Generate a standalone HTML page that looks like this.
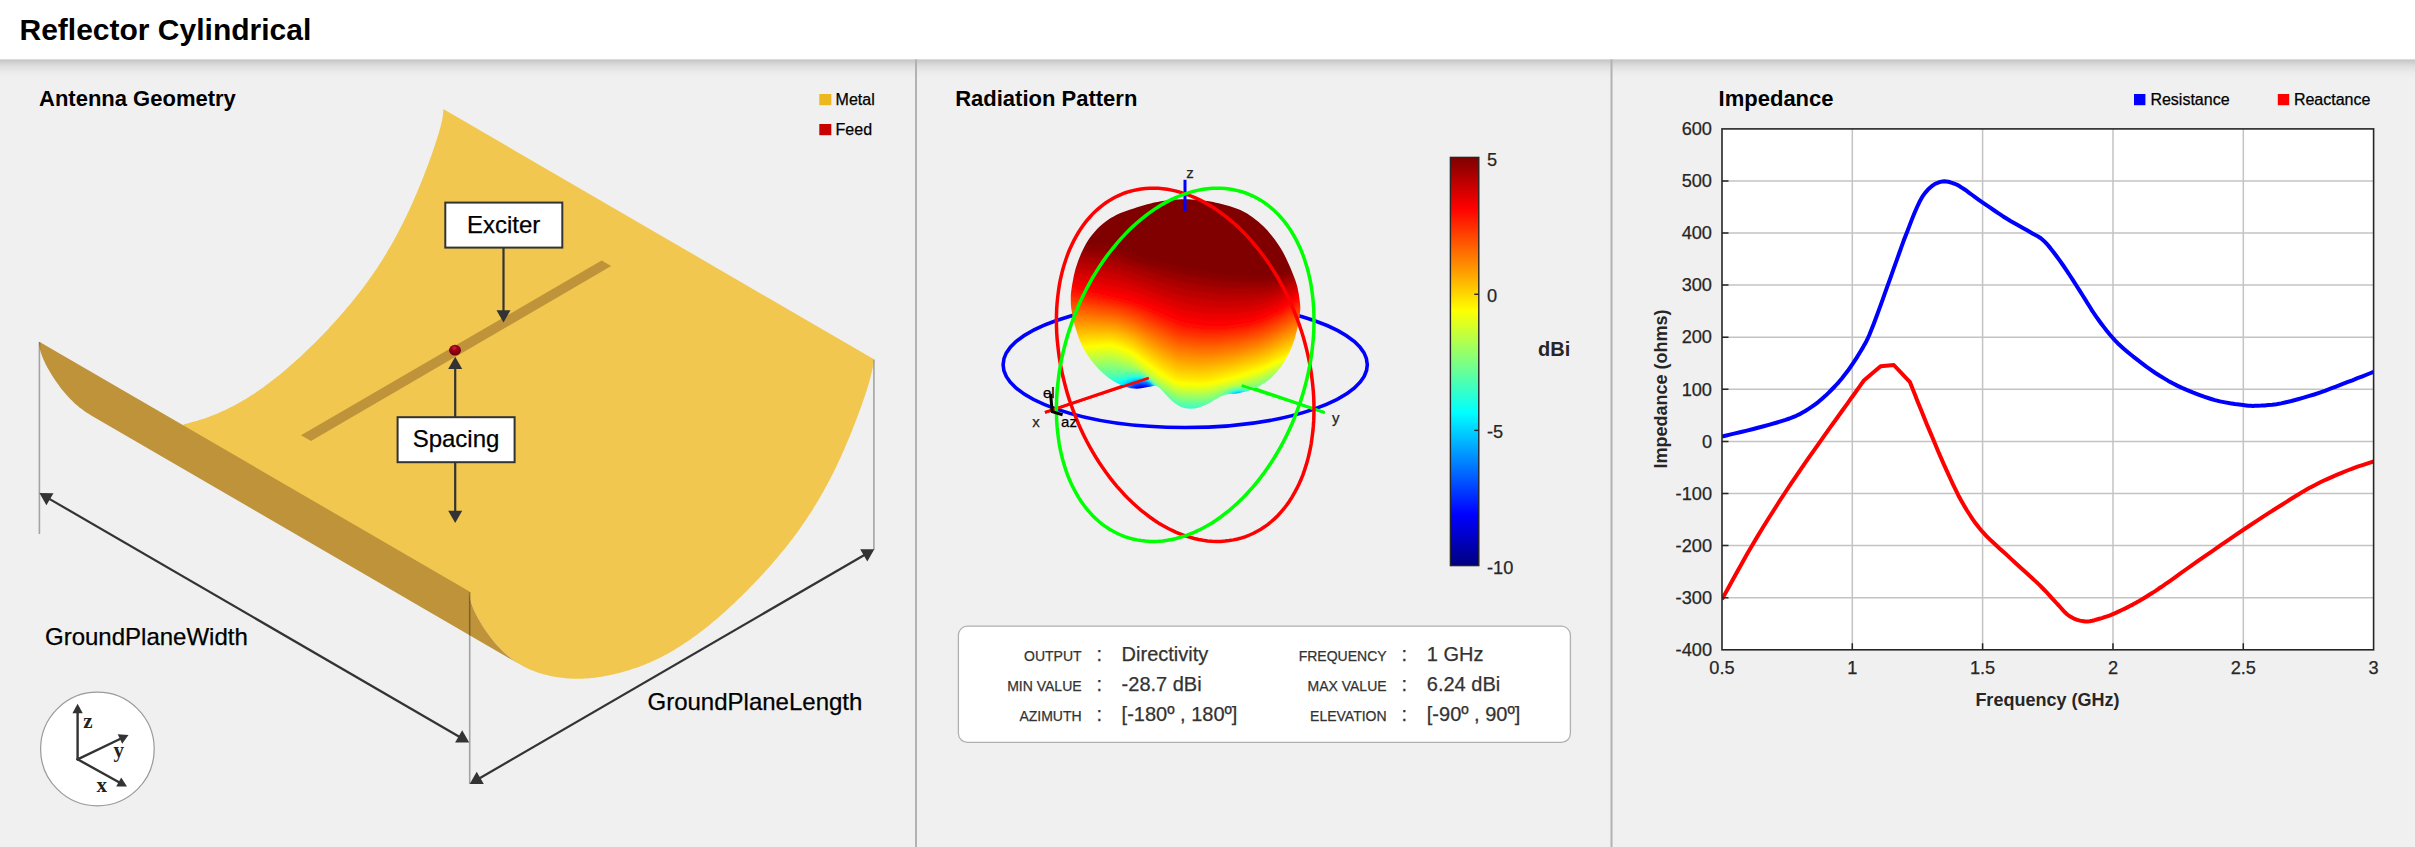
<!DOCTYPE html>
<html lang="en">
<head>
<meta charset="utf-8">
<title>Reflector Cylindrical</title>
<style>
html,body{margin:0;padding:0;background:#f0f0f0;}
body{width:2415px;height:847px;overflow:hidden;font-family:'Liberation Sans', Arial, Helvetica, sans-serif;}
svg{display:block;}
text{font-family:'Liberation Sans', Arial, Helvetica, sans-serif;}
.b{font-weight:bold;}
.serif{font-family:'Liberation Serif', 'Times New Roman', serif;font-weight:bold;}
</style>
</head>
<body>
<svg width="2415" height="847" viewBox="0 0 2415 847">
<defs>
<linearGradient id="shadow" x1="0" y1="0" x2="0" y2="1">
<stop offset="0" stop-color="#c2c2c2"/><stop offset="0.35" stop-color="#dedede"/><stop offset="0.7" stop-color="#ebebeb"/><stop offset="1" stop-color="#f0f0f0"/>
</linearGradient>
<radialGradient id="ball" cx="0.45" cy="0.3" r="0.7"><stop offset="0" stop-color="#cc2a40"/><stop offset="0.35" stop-color="#a00016"/><stop offset="1" stop-color="#68000c"/></radialGradient><mask id="bodymask" maskUnits="userSpaceOnUse" x="1060" y="190" width="250" height="226"><polygon points="1184.7,199.2 1188.1,199.3 1191.6,199.4 1195.1,199.7 1198.5,200 1201.7,200.3 1204.7,200.7 1207.6,201.1 1210.4,201.6 1213.1,202.1 1215.9,202.7 1218.7,203.3 1221.5,204 1224.4,204.7 1227.2,205.4 1230,206.3 1232.8,207.2 1235.7,208.2 1238.5,209.3 1241.4,210.5 1244.2,211.9 1247.1,213.6 1250,215.5 1252.9,217.5 1255.7,219.7 1258.4,221.8 1260.8,223.9 1263.1,226.1 1265.3,228.3 1267.5,230.6 1269.7,233.2 1272,236 1274.4,239.1 1276.7,242.3 1278.9,245.5 1281,248.8 1282.9,252.1 1284.7,255.4 1286.3,258.8 1287.9,262.3 1289.5,265.8 1291.1,269.4 1292.6,273.2 1294.1,277 1295.5,280.7 1296.6,284.2 1297.5,287.6 1298.2,291 1298.8,294.2 1299.2,297.3 1299.6,300 1299.9,302.3 1300.1,304.2 1300.3,305.9 1300.3,307.7 1300.2,310 1300,312.7 1299.7,315.6 1299.3,318.7 1298.7,322 1298,325.5 1297.1,329.2 1296.1,333.2 1295,337.4 1293.8,341.5 1292.4,345.3 1290.9,348.9 1289.3,352.4 1287.6,355.8 1285.8,359.1 1283.9,362.3 1281.8,365.4 1279.5,368.5 1277.2,371.4 1274.8,374.1 1272.5,376.5 1270.3,378.6 1268,380.4 1265.8,382.1 1263.6,383.6 1261.2,385 1258.7,386.4 1256.1,387.6 1253.5,388.8 1250.9,389.8 1248.4,390.7 1246,391.5 1243.8,392.1 1241.5,392.6 1239.3,393.1 1237.1,393.5 1234.8,393.8 1232.5,393.9 1230.2,394 1228,394.2 1225.8,394.6 1223.7,395.3 1221.7,396.1 1219.8,397.1 1217.9,398.2 1215.9,399.2 1213.9,400.3 1212,401.5 1210,402.7 1208,403.8 1205.9,404.8 1203.7,405.7 1201.5,406.6 1199.2,407.4 1196.9,408 1194.6,408.4 1192.3,408.6 1190,408.7 1187.7,408.5 1185.5,408.2 1183.3,407.7 1181.2,406.9 1179.1,405.9 1177.1,404.7 1175.2,403.4 1173.3,402 1171.5,400.5 1169.8,398.7 1168.1,396.9 1166.4,395.2 1164.8,393.5 1163.2,391.8 1161.7,390.1 1160.2,388.5 1158.6,387.1 1157,386.2 1155.3,385.8 1153.7,385.9 1151.9,386.3 1150,386.8 1147.8,387.1 1145.3,387.5 1142.5,387.9 1139.6,388.4 1136.6,388.7 1133.7,388.6 1130.8,388.2 1128,387.5 1125.1,386.6 1122.2,385.5 1119.5,384.3 1116.9,383 1114.3,381.7 1111.8,380.1 1109.3,378.4 1106.8,376.5 1104.2,374.3 1101.6,372 1099,369.4 1096.5,366.7 1094,363.8 1091.6,360.7 1089.2,357.4 1086.8,353.9 1084.7,350.4 1082.7,346.8 1081,343.2 1079.4,339.5 1078,335.8 1076.8,332 1075.6,328.3 1074.5,324.5 1073.6,320.7 1072.8,316.9 1072.1,313.3 1071.5,310 1071.1,307.2 1070.9,304.7 1070.8,302.4 1070.8,300.2 1070.8,298 1070.8,295.9 1070.9,293.9 1071.1,291.9 1071.4,289.7 1071.8,287 1072.3,283.8 1073,280.2 1073.7,276.3 1074.6,272.4 1075.6,268.6 1076.8,264.9 1078.1,261 1079.6,257.3 1081.1,253.6 1082.7,250.2 1084.3,247.1 1085.9,244.1 1087.5,241.3 1089.3,238.6 1091.2,236 1093.2,233.4 1095.4,230.9 1097.6,228.5 1100,226.2 1102.5,224 1105.1,221.9 1107.8,220 1110.7,218.1 1113.6,216.4 1116.7,214.8 1119.9,213.3 1123.3,212 1126.8,210.7 1130.3,209.5 1133.7,208.4 1137.1,207.3 1140.5,206.2 1143.9,205.2 1147.3,204.3 1150.7,203.4 1154.1,202.6 1157.5,201.9 1160.9,201.3 1164.3,200.8 1167.7,200.3 1171.1,199.9 1174.5,199.6 1177.9,199.4 1181.3,199.2" fill="#fff"/></mask><filter id="soft" filterUnits="userSpaceOnUse" x="1050" y="180" width="270" height="246"><feGaussianBlur stdDeviation="1.1"/></filter><linearGradient id="jet" x1="0" y1="0" x2="0" y2="1"><stop offset="0.0000" stop-color="#800000"/><stop offset="0.0156" stop-color="#8f0000"/><stop offset="0.0312" stop-color="#9f0000"/><stop offset="0.0469" stop-color="#af0000"/><stop offset="0.0625" stop-color="#bf0000"/><stop offset="0.0781" stop-color="#cf0000"/><stop offset="0.0938" stop-color="#df0000"/><stop offset="0.1094" stop-color="#ef0000"/><stop offset="0.1250" stop-color="#ff0000"/><stop offset="0.1406" stop-color="#ff1000"/><stop offset="0.1562" stop-color="#ff2000"/><stop offset="0.1719" stop-color="#ff3000"/><stop offset="0.1875" stop-color="#ff4000"/><stop offset="0.2031" stop-color="#ff5000"/><stop offset="0.2188" stop-color="#ff6000"/><stop offset="0.2344" stop-color="#ff7000"/><stop offset="0.2500" stop-color="#ff8000"/><stop offset="0.2656" stop-color="#ff8f00"/><stop offset="0.2812" stop-color="#ff9f00"/><stop offset="0.2969" stop-color="#ffaf00"/><stop offset="0.3125" stop-color="#ffbf00"/><stop offset="0.3281" stop-color="#ffcf00"/><stop offset="0.3438" stop-color="#ffdf00"/><stop offset="0.3594" stop-color="#ffef00"/><stop offset="0.3750" stop-color="#ffff00"/><stop offset="0.3906" stop-color="#efff10"/><stop offset="0.4062" stop-color="#dfff20"/><stop offset="0.4219" stop-color="#cfff30"/><stop offset="0.4375" stop-color="#bfff40"/><stop offset="0.4531" stop-color="#afff50"/><stop offset="0.4688" stop-color="#9fff60"/><stop offset="0.4844" stop-color="#8fff70"/><stop offset="0.5000" stop-color="#80ff80"/><stop offset="0.5156" stop-color="#70ff8f"/><stop offset="0.5312" stop-color="#60ff9f"/><stop offset="0.5469" stop-color="#50ffaf"/><stop offset="0.5625" stop-color="#40ffbf"/><stop offset="0.5781" stop-color="#30ffcf"/><stop offset="0.5938" stop-color="#20ffdf"/><stop offset="0.6094" stop-color="#10ffef"/><stop offset="0.6250" stop-color="#00ffff"/><stop offset="0.6406" stop-color="#00efff"/><stop offset="0.6562" stop-color="#00dfff"/><stop offset="0.6719" stop-color="#00cfff"/><stop offset="0.6875" stop-color="#00bfff"/><stop offset="0.7031" stop-color="#00afff"/><stop offset="0.7188" stop-color="#009fff"/><stop offset="0.7344" stop-color="#008fff"/><stop offset="0.7500" stop-color="#0080ff"/><stop offset="0.7656" stop-color="#0070ff"/><stop offset="0.7812" stop-color="#0060ff"/><stop offset="0.7969" stop-color="#0050ff"/><stop offset="0.8125" stop-color="#0040ff"/><stop offset="0.8281" stop-color="#0030ff"/><stop offset="0.8438" stop-color="#0020ff"/><stop offset="0.8594" stop-color="#0010ff"/><stop offset="0.8750" stop-color="#0000ff"/><stop offset="0.8906" stop-color="#0000ef"/><stop offset="0.9062" stop-color="#0000df"/><stop offset="0.9219" stop-color="#0000cf"/><stop offset="0.9375" stop-color="#0000bf"/><stop offset="0.9531" stop-color="#0000af"/><stop offset="0.9688" stop-color="#00009f"/><stop offset="0.9844" stop-color="#00008f"/><stop offset="1.0000" stop-color="#000080"/></linearGradient>
</defs>
<rect x="0" y="0" width="2415" height="847" fill="#f0f0f0"/>
<rect x="0" y="59" width="2415" height="19" fill="url(#shadow)"/>
<rect x="0" y="0" width="2415" height="59.4" fill="#ffffff"/>
<text x="19.5" y="40.2" font-size="30" class="b" fill="#000">Reflector Cylindrical</text>
<rect x="915" y="59.4" width="2" height="847" fill="#b2b2b2"/>
<rect x="1610.5" y="59.4" width="2" height="847" fill="#b2b2b2"/>
<text x="39" y="105.7" font-size="22" class="b" fill="#000">Antenna Geometry</text><rect x="819.3" y="94" width="12" height="11.2" fill="#edb720"/><text x="835.6" y="104.9" font-size="16" fill="#000" stroke="#000" stroke-width="0.25">Metal</text><rect x="819.3" y="124" width="12" height="11.2" fill="#c80000"/><text x="835.6" y="134.9" font-size="16" fill="#000" stroke="#000" stroke-width="0.25">Feed</text><polygon points="183.9,424.3 186.5,423.7 189,423 191.6,422.3 194.1,421.6 196.7,420.9 199.3,420.1 201.9,419.2 204.5,418.4 207.1,417.5 209.7,416.5 212.3,415.5 214.9,414.5 217.6,413.4 220.2,412.3 222.8,411.1 225.5,409.9 228.1,408.6 230.7,407.3 233.4,405.9 236,404.5 238.7,403.1 241.3,401.6 243.9,400 246.6,398.4 249.2,396.8 251.9,395.1 254.5,393.4 257.1,391.6 259.8,389.8 262.4,387.9 265,386 267.7,384.1 270.3,382.1 272.9,380.1 275.5,378.1 278.1,376 280.7,373.9 283.3,371.7 285.9,369.5 288.5,367.3 291,365.1 293.6,362.8 296.1,360.5 298.7,358.2 301.2,355.9 303.7,353.5 306.2,351.1 308.7,348.7 311.2,346.3 313.7,343.9 316.2,341.4 318.6,338.9 321,336.4 323.5,333.9 325.9,331.4 328.3,328.9 330.6,326.3 333,323.8 335.4,321.2 337.7,318.6 340,316 342.3,313.3 344.6,310.7 346.8,308.1 349.1,305.4 351.3,302.7 353.5,300 355.7,297.3 357.9,294.5 360,291.7 362.2,289 364.3,286.2 366.4,283.3 368.4,280.5 370.5,277.6 372.5,274.7 374.5,271.8 376.5,268.9 378.4,265.9 380.3,263 382.3,260 384.1,256.9 386,253.9 387.8,250.8 389.6,247.8 391.4,244.7 393.2,241.6 394.9,238.4 396.6,235.3 398.3,232.1 399.9,229 401.6,225.8 403.2,222.6 404.7,219.5 406.3,216.3 407.8,213.1 409.3,209.9 410.7,206.8 412.1,203.6 413.5,200.5 414.9,197.3 416.2,194.2 417.5,191.2 418.8,188.1 420.1,185.1 421.3,182.1 422.5,179.1 423.6,176.2 424.7,173.3 425.8,170.5 426.9,167.7 427.9,164.9 428.9,162.2 429.9,159.6 430.8,157 431.7,154.5 432.6,152 433.4,149.6 434.2,147.3 435,145 435.7,142.8 436.4,140.6 437.1,138.5 437.7,136.5 438.3,134.5 438.9,132.6 439.4,130.7 439.9,129 440.4,127.2 440.8,125.6 441.2,123.9 441.6,122.4 441.9,120.9 442.2,119.4 442.5,118 442.7,116.6 442.9,115.3 443,114 443.1,112.7 443.2,111.5 443.3,110.3 443.3,109.1 873.5,359 873.5,360.2 873.4,361.4 873.3,362.6 873.2,363.9 873.1,365.2 872.9,366.5 872.7,367.9 872.4,369.3 872.1,370.8 871.8,372.3 871.4,373.8 871,375.5 870.6,377.1 870.1,378.9 869.6,380.6 869.1,382.5 868.5,384.4 867.9,386.4 867.3,388.4 866.6,390.5 865.9,392.7 865.2,394.9 864.4,397.2 863.6,399.5 862.8,401.9 861.9,404.4 861,406.9 860.1,409.5 859.1,412.1 858.1,414.8 857.1,417.6 856,420.4 854.9,423.2 853.8,426.1 852.7,429 851.5,432 850.3,435 849,438 847.7,441.1 846.4,444.1 845.1,447.2 843.7,450.4 842.3,453.5 840.9,456.7 839.5,459.8 838,463 836.5,466.2 834.9,469.4 833.4,472.5 831.8,475.7 830.1,478.9 828.5,482 826.8,485.2 825.1,488.3 823.4,491.5 821.6,494.6 819.8,497.7 818,500.7 816.2,503.8 814.3,506.8 812.5,509.9 810.5,512.9 808.6,515.8 806.7,518.8 804.7,521.7 802.7,524.6 800.7,527.5 798.6,530.4 796.6,533.2 794.5,536.1 792.4,538.9 790.2,541.6 788.1,544.4 785.9,547.2 783.7,549.9 781.5,552.6 779.3,555.3 777,558 774.8,560.6 772.5,563.2 770.2,565.9 767.9,568.5 765.6,571.1 763.2,573.7 760.8,576.2 758.5,578.8 756.1,581.3 753.7,583.8 751.2,586.3 748.8,588.8 746.4,591.3 743.9,593.8 741.4,596.2 738.9,598.6 736.4,601 733.9,603.4 731.4,605.8 728.9,608.1 726.3,610.4 723.8,612.7 721.2,615 718.7,617.2 716.1,619.4 713.5,621.6 710.9,623.8 708.3,625.9 705.7,628 703.1,630 700.5,632 697.9,634 695.2,635.9 692.6,637.8 690,639.7 687.3,641.5 684.7,643.3 682.1,645 679.4,646.7 676.8,648.3 674.1,649.9 671.5,651.5 668.9,653 666.2,654.4 663.6,655.8 660.9,657.2 658.3,658.5 655.7,659.8 653,661 650.4,662.2 647.8,663.3 645.1,664.4 642.5,665.4 639.9,666.4 637.3,667.4 634.7,668.3 632.1,669.1 629.5,670 626.9,670.8 624.3,671.5 621.8,672.2 619.2,672.9 616.7,673.6 614.1,674.2 611.6,674.7 609.1,675.3 606.6,675.8 604.1,676.3 601.6,676.7 599.1,677.1 596.6,677.5 594.2,677.8 591.8,678.1 589.3,678.3 586.9,678.5 584.5,678.6 582.2,678.7 579.8,678.8 577.4,678.8 575.1,678.8 572.8,678.7 570.5,678.6 568.2,678.4 566,678.3 563.7,678 561.5,677.8 559.3,677.5 557.1,677.2 554.9,676.8 552.8,676.4 550.6,676 548.5,675.5 546.4,675 544.4,674.5 542.3,674 540.3,673.3 538.3,672.7 536.3,672 534.4,671.3 532.5,670.6 530.5,669.8 528.7,669 526.8,668.1 525,667.2 523.2,666.2 521.4,665.3 519.6,664.2 517.9,663.2 516.2,662.1 514.5,660.9 512.9,659.7 511.2,658.5 509.6,657.3 508.1,656 506.5,654.7 505,653.3 503.5,651.9 502.1,650.5 500.7,649.1 499.3,647.6 497.9,646.2 496.6,644.7 495.3,643.2 494,641.7 492.7,640.1 491.5,638.6 490.3,637.1 489.2,635.5 488.1,634 487,632.5 485.9,630.9 484.9,629.4 483.9,627.9 482.9,626.4 482,624.9 481.1,623.5 480.2,622 479.4,620.6 478.6,619.2 477.8,617.8 477.1,616.4 476.4,615.1 475.7,613.8 475.1,612.5 474.5,611.2 473.9,610 473.4,608.8 472.9,607.6 472.4,606.4 472,605.2 471.6,604 471.2,602.9 470.9,601.8 470.6,600.6 470.3,599.5 470.1,598.4 469.9,597.3 469.8,596.2 469.7,595 469.6,593.9 469.5,592.8 469.5,591.6 467,595.9 181.4,428.6" fill="#f1c74f"/><polygon points="39.3,341.7 469.5,591.6 469.5,592.8 469.6,593.9 469.7,595 469.8,596.2 469.9,597.3 470.1,598.4 470.3,599.5 470.6,600.6 470.9,601.8 471.2,602.9 471.6,604 472,605.2 472.4,606.4 472.9,607.6 473.4,608.8 473.9,610 474.5,611.2 475.1,612.5 475.7,613.8 476.4,615.1 477.1,616.4 477.8,617.8 478.6,619.2 479.4,620.6 480.2,622 481.1,623.5 482,624.9 482.9,626.4 483.9,627.9 484.9,629.4 485.9,630.9 487,632.5 488.1,634 489.2,635.5 490.3,637.1 491.5,638.6 492.7,640.1 494,641.7 495.3,643.2 496.6,644.7 497.9,646.2 499.3,647.6 500.7,649.1 502.1,650.5 503.5,651.9 505,653.3 506.5,654.7 508.1,656 509.6,657.3 511.2,658.5 512.9,659.7 514.5,660.9 516.2,662.1 517.9,663.2 519.6,664.2 521.4,665.3 91.2,415.4 89.4,414.3 87.7,413.3 86,412.2 84.3,411 82.7,409.8 81,408.6 79.4,407.4 77.9,406.1 76.3,404.8 74.8,403.4 73.3,402 71.9,400.6 70.5,399.2 69.1,397.7 67.7,396.3 66.4,394.8 65.1,393.3 63.8,391.8 62.5,390.2 61.3,388.7 60.1,387.2 59,385.6 57.9,384.1 56.8,382.6 55.7,381 54.7,379.5 53.7,378 52.7,376.5 51.8,375 50.9,373.6 50,372.1 49.2,370.7 48.4,369.3 47.6,367.9 46.9,366.5 46.2,365.2 45.5,363.9 44.9,362.6 44.3,361.3 43.7,360.1 43.2,358.9 42.7,357.7 42.2,356.5 41.8,355.3 41.4,354.1 41,353 40.7,351.9 40.4,350.7 40.1,349.6 39.9,348.5 39.7,347.4 39.6,346.3 39.5,345.1 39.4,344 39.3,342.9 39.3,341.7" fill="#bf933a"/><polygon points="301,435.3 601.6,260.6 611.2,266.1 311,441" fill="#bf933a"/><line x1="39.4" y1="342" x2="39.4" y2="534" stroke="#000" stroke-opacity="0.32" stroke-width="1.6"/><line x1="469.7" y1="592" x2="469.7" y2="784" stroke="#000" stroke-opacity="0.32" stroke-width="1.6"/><line x1="873.9" y1="359.5" x2="873.9" y2="549.7" stroke="#000" stroke-opacity="0.32" stroke-width="1.6"/><line x1="46.3" y1="497.1" x2="462.3" y2="738.5" stroke="#333333" stroke-width="2.2"/><polygon points="39.4,493.1 53.5,493.2 46.4,505.3" fill="#333333"/><polygon points="469.2,742.5 455.1,742.4 462.2,730.3" fill="#333333"/><line x1="476.6" y1="780" x2="867.4" y2="553.2" stroke="#333333" stroke-width="2.2"/><polygon points="469.7,784 476.7,771.8 483.8,783.9" fill="#333333"/><polygon points="874.3,549.2 867.3,561.4 860.2,549.3" fill="#333333"/><line x1="503.5" y1="248" x2="503.5" y2="314.4" stroke="#333333" stroke-width="2.2"/><polygon points="503.5,322.4 496.5,310.2 510.5,310.2" fill="#333333"/><rect x="445.3" y="202.6" width="117" height="45" fill="#fff" stroke="#333" stroke-width="2"/><text x="503.7" y="232.6" font-size="24" text-anchor="middle" fill="#000" stroke="#000" stroke-width="0.25">Exciter</text><line x1="455.2" y1="417" x2="455.2" y2="364.7" stroke="#333333" stroke-width="2.2"/><polygon points="455.2,356.7 462.2,368.9 448.2,368.9" fill="#333333"/><line x1="455.2" y1="462" x2="455.2" y2="515" stroke="#333333" stroke-width="2.2"/><polygon points="455.2,523 448.2,510.8 462.2,510.8" fill="#333333"/><rect x="397.6" y="417.2" width="117" height="45" fill="#fff" stroke="#333" stroke-width="2"/><text x="456" y="447.2" font-size="24" text-anchor="middle" fill="#000" stroke="#000" stroke-width="0.25">Spacing</text><ellipse cx="455" cy="350.2" rx="6" ry="5.4" fill="url(#ball)"/><text x="45" y="645.3" font-size="24" fill="#000" stroke="#000" stroke-width="0.25">GroundPlaneWidth</text><text x="647.5" y="709.8" font-size="24" fill="#000" stroke="#000" stroke-width="0.25">GroundPlaneLength</text><circle cx="97.4" cy="749" r="56.8" fill="#fff" stroke="#9a9a9a" stroke-width="1.2"/><line x1="77.6" y1="759.3" x2="77.6" y2="709.7" stroke="#333333" stroke-width="2.4" stroke-linecap="round"/><polygon points="77.6,703.7 82.8,713.2 72.4,713.2" fill="#333333"/><line x1="77.6" y1="759.3" x2="123.1" y2="737.5" stroke="#333333" stroke-width="2.4" stroke-linecap="round"/><polygon points="128.5,734.9 122.2,743.7 117.7,734.3" fill="#333333"/><line x1="77.6" y1="759.3" x2="121.7" y2="783.7" stroke="#333333" stroke-width="2.4" stroke-linecap="round"/><polygon points="127,786.6 116.2,786.6 121.2,777.5" fill="#333333"/><text x="88" y="728" font-size="21" class="serif" text-anchor="middle" fill="#222">z</text><text x="118.7" y="757" font-size="21" class="serif" text-anchor="middle" fill="#222">y</text><text x="101.8" y="792" font-size="21" class="serif" text-anchor="middle" fill="#222">x</text><text x="955.2" y="105.7" font-size="22" class="b" fill="#000">Radiation Pattern</text><ellipse cx="1185.2" cy="364.8" rx="182.1" ry="62.7" fill="none" stroke="#0000ff" stroke-width="3.6"/><line x1="1185.2" y1="364.8" x2="1045" y2="412.4" stroke="#ff0000" stroke-width="3"/><line x1="1185.2" y1="364.8" x2="1324.7" y2="412.6" stroke="#00ff00" stroke-width="3"/><g mask="url(#bodymask)"><g filter="url(#soft)"><rect x="1060" y="190" width="252" height="228" fill="#0000b1"/><path d="M1310 418L1060 418.1L1059.7 190L1312 189.7L1312 417.7L1310 418Z" fill="#0000bb" fill-rule="evenodd"/><path d="M1304 418L1060 418.1L1059.7 190L1312 189.7L1312 414.8L1304 418ZM1143.3 394L1146.3 392L1145.8 390L1142 388.9L1139.1 390L1138.6 392L1140 393.5L1143.3 394Z" fill="#0000cc" fill-rule="evenodd"/><path d="M1300 418L1060 418.1L1059.7 190L1312 189.7L1312 412.7L1306 414.6L1300 418ZM1146.5 394L1147.9 392L1147.4 390L1144.6 388L1140 388L1137.2 390L1136.8 392L1138 394L1140 394.9L1144 395.1L1146.5 394Z" fill="#0000dd" fill-rule="evenodd"/><path d="M1294 418L1060 418.1L1059.7 190L1312 189.7L1312 410.7L1304 413.3L1295.4 418L1294 418ZM1144.6 396L1148 394.1L1149 392L1148.7 390L1146.8 388L1144 387.1L1140 387.2L1137.7 388L1135.7 390L1136 393.5L1138 395.3L1142 396.3L1144.6 396Z" fill="#0000ee" fill-rule="evenodd"/><path d="M1290 418L1060 418.1L1059.7 190L1312 189.7L1312 408.7L1298 413.8L1290 418ZM1147 396L1149.4 394L1150.2 392L1149.8 390L1148.2 388L1146 386.8L1140 386.4L1136.1 388L1134.5 390L1134.1 392L1134.9 394L1138 396.5L1142 397.2L1147 396Z" fill="#0000ff" fill-rule="evenodd"/><path d="M1286 418L1060 418L1060 189.7L1312.3 190L1312 406.7L1294 413.5L1286 418ZM1143.2 398L1148 396.5L1150.5 394L1150.8 390L1149.4 388L1146 386.1L1142 385.5L1138 386.2L1134.8 388L1133 392L1134 394.7L1138 397.5L1143.2 398Z" fill="#0011ff" fill-rule="evenodd"/><path d="M1280 418L1060 418L1060 189.7L1312.3 190L1312 404.7L1292 412.3L1284.3 416L1281.9 418L1280 418ZM1146.7 398L1150 396L1152 392L1150.4 388L1148 386.2L1144 385L1138 385.5L1134 387.6L1132.3 390L1132.3 394L1136 397.7L1142 399L1146.7 398Z" fill="#0022ff" fill-rule="evenodd"/><path d="M1276 418L1060 418L1060 189.7L1312.3 190L1312 402.7L1296 408.6L1283.8 414L1277.7 418L1276 418ZM1148.6 398L1151.1 396L1152.8 392L1151.3 388L1148 385.6L1144 384.5L1138 384.8L1134 386.7L1131.2 390L1130.8 392L1132 395.6L1136 398.8L1142 399.8L1148.6 398Z" fill="#0033ff" fill-rule="evenodd"/><path d="M1272 418L1060 418L1060 189.7L1312.3 190L1312 400.7L1292 408.3L1279.5 414L1273.8 418L1272 418ZM1146.1 400L1150.1 398L1153.3 394L1153.3 390L1150 386L1146 384.3L1140 383.9L1134 385.8L1131.4 388L1130.2 390L1130 394L1132.7 398L1138 400.5L1142 400.8L1146.1 400Z" fill="#0044ff" fill-rule="evenodd"/><path d="M1268 418L1060 418L1060 189.7L1312.3 190L1312 398.7L1290 407.2L1275.5 414L1269.9 418L1268 418ZM1148.4 400L1153.2 396L1154.4 392L1152.9 388L1150 385.4L1146 383.7L1140 383.3L1134 385L1130.3 388L1129.2 390L1128.9 394L1131 398L1133.6 400L1140 401.7L1144 401.5L1148.4 400Z" fill="#0055ff" fill-rule="evenodd"/><path d="M1264 418L1060 418L1060 189.7L1312.3 190L1312 396.7L1288 406.1L1271.7 414L1265.6 418L1264 418ZM1145.9 402L1152 398.6L1155 394L1154.8 390L1151.7 386L1146 383.2L1140 382.8L1134 384.3L1129.2 388L1128.2 390L1127.7 394L1129.4 398L1131.3 400L1134 401.7L1138 402.8L1145.9 402ZM1240.9 396L1238 396L1240.9 396Z" fill="#0066ff" fill-rule="evenodd"/><path d="M1260 418L1139.7 418L1136 416L1130 415.2L1120 416.9L1114 415.6L1108 415.5L1095.8 418L1060 418L1060 189.8L1312.3 190L1312 394.7L1286 405L1260 418ZM1142.4 404L1148 402.4L1153.8 398L1155.8 394L1155.5 390L1152 385.7L1146 382.7L1140 382.2L1134 383.6L1130 386L1128.2 388L1126.5 392L1126.9 396L1129.2 400L1132 402.4L1138 404.3L1142.4 404ZM1242.9 396L1240 394.7L1236.4 396L1240 397.5L1242.9 396Z" fill="#0077ff" fill-rule="evenodd"/><path d="M1254 418L1147.2 418L1138 412.6L1132 411.1L1120 413.1L1112 412.2L1102 413L1084.9 416L1079.5 418L1060 418L1060 189.8L1312.3 190L1312 392.7L1292 400.3L1254 418ZM1141.3 406L1146 404.6L1152 401.1L1156 396L1156.7 392L1154.8 388L1150 383.8L1146 382.2L1140 381.7L1134 382.9L1128.8 386L1126 390L1125.2 394L1127.1 400L1132 405.3L1136 406.8L1141.3 406ZM1242.2 398L1244.2 396L1241.1 394L1237.9 394L1235.2 396L1238 398.2L1242.2 398Z" fill="#0088ff" fill-rule="evenodd"/><path d="M1248 418L1152.6 418L1144.8 412L1143.4 410L1144.3 408L1154.5 400L1156.9 396L1157.4 392L1155.3 388L1151 384L1148 382.3L1142 381.2L1136 381.7L1132 383L1125.9 388L1124.1 392L1123.9 396L1126.6 406L1124 408.6L1120 409.7L1110 409.1L1098 410.5L1078.8 414L1071.7 416L1067.7 418L1060 418L1060 189.8L1312.2 190L1312 390.7L1294 397.5L1266 410.7L1248 418ZM1244 398L1245.2 396L1242 393.7L1236.2 394L1234.2 396L1235.7 398L1238 398.7L1244 398Z" fill="#0099ff" fill-rule="evenodd"/><path d="M1240 418L1157.4 418L1150 412L1148.7 410L1148.9 408L1157 398L1158.2 394L1158.1 392L1155.8 388L1151.6 384L1148 381.8L1142 380.7L1132.8 382L1126.4 386L1122.7 392L1122.3 402L1121.7 404L1120 405.4L1106 406.4L1086 409.4L1060 416L1060 189.8L1312.2 190L1312 388.7L1292 396.3L1264 409.5L1245.4 416L1241.6 418L1240 418ZM1245.3 398L1246.3 396L1244.5 394L1242 393.3L1236 393.6L1233.4 396L1234.5 398L1238 399.3L1242 399.3L1245.3 398Z" fill="#00aaff" fill-rule="evenodd"/><path d="M1234 418L1162.7 418L1154.2 412L1152.6 410L1152.3 408L1153 406L1158.8 396L1159 394L1157.6 390L1150 382.5L1146 380.7L1142 380.2L1134 381L1130 382.5L1126 385.1L1122.1 390L1118.4 400L1116 401.6L1084 406.8L1060 412.6L1060 189.8L1312.2 190L1312 386.7L1292 394.3L1264 407.5L1234 418ZM1240.6 400L1244 399.5L1246.6 398L1247.3 396L1245.6 394L1242 392.8L1238 392.8L1234 394L1232.6 396L1234 398.4L1240.6 400Z" fill="#00bbff" fill-rule="evenodd"/><path d="M1226 418L1168 418L1158.1 412L1155.3 408L1155.4 406L1159.7 396L1159.8 394L1158.1 390L1150 382.1L1146 380.2L1142 379.7L1134 380.3L1128 382.7L1121.8 388L1116 396.7L1112 398.8L1082 404.1L1060 409.5L1060 189.8L1312.2 190L1312 384.7L1294 391.5L1262 406.3L1226 418ZM1244.6 400L1247.8 398L1248.3 396L1246.7 394L1244 392.9L1240 392.2L1236 392.8L1233.2 394L1231.8 396L1232.5 398L1236 400L1240 400.7L1244.6 400Z" fill="#00ccff" fill-rule="evenodd"/><path d="M1218 418L1172.9 418L1162 411.7L1158.2 408L1158.2 404L1160.7 396L1160.5 394L1158.4 390L1150 381.8L1146 379.8L1142 379.1L1134 379.7L1127.5 382L1122 386L1116 392.4L1110 395.9L1080 401.5L1060 406.3L1060 189.8L1312.2 190L1312 382.7L1294 389.5L1262 404.3L1218 418ZM1246.9 400L1249.2 398L1249.3 396L1247.7 394L1244 392.4L1240 391.9L1236 392.3L1232.3 394L1231 396L1232 398.5L1236 400.7L1242 401.4L1246.9 400Z" fill="#00ddff" fill-rule="evenodd"/><path d="M1210 418L1178.7 418L1166 411.5L1162 408.7L1160.4 406L1161.6 396L1160.2 392L1155.1 386L1150 381.5L1146 379.3L1142 378.6L1134 379L1128 380.8L1122.5 384L1114 390.6L1108 393.3L1080 398.4L1060 403.2L1060 189.8L1312.2 190L1312 380.7L1294 387.5L1262 402.2L1210 418ZM1243.7 402L1248 401L1250.6 398L1250.5 396L1248.9 394L1246 392.6L1242 391.6L1236 391.9L1231.5 394L1230.2 396L1230.6 398L1234 400.7L1238 401.9L1243.7 402Z" fill="#00eeff" fill-rule="evenodd"/><path d="M1204 416.2L1180 415.3L1174 413.3L1167.5 410L1163.1 406L1162.4 404L1162.5 396L1159 390L1150 381.2L1146 378.9L1142 378L1134 378.3L1128 379.9L1114 387.8L1106 390.8L1080 395.3L1060 400.1L1060 189.8L1312.2 190L1312 378.7L1292 386.3L1266 398.6L1256 401.6L1254 401.8L1252.3 400L1251.8 396L1248 392.8L1242 391.2L1234 392.1L1230.7 394L1229.4 396L1229.7 398L1234 401.6L1243.1 404L1242 406L1230.2 410L1204 416.2Z" fill="#00ffff" fill-rule="evenodd"/><path d="M1200 414L1180 413.1L1176 412.1L1170 409.1L1166 406L1164.7 404L1163.3 396L1159.3 390L1150 380.9L1146 378.4L1142 377.5L1136 377.4L1130 378.3L1108 387.4L1080 392.3L1060 397L1060 189.8L1312.2 190L1312 376.7L1298 381.8L1268 395.8L1260 398.4L1256 398.3L1251.5 394L1246 391.5L1240 390.8L1234 391.7L1229.8 394L1228.6 396L1228.7 398L1232 401.7L1235.7 404L1235.1 406L1229.9 408L1212 412.6L1200 414Z" fill="#11ffee" fill-rule="evenodd"/><path d="M1214 410.1L1204 411.8L1194 411.9L1180 411.1L1174 409.1L1167.2 404L1164.1 396L1155.9 386L1148 379.1L1142 376.9L1130 377.4L1108 384.5L1080 389.2L1060 393.9L1060 189.8L1312.2 190L1312 374.7L1296 380.6L1262 395.9L1256 395.7L1249.2 392L1244 390.7L1238 390.5L1234 391.3L1229 394L1227.7 396L1228 398.8L1231.3 404L1230 405.3L1214 410.1Z" fill="#22ffdd" fill-rule="evenodd"/><path d="M1214 408.1L1200 410L1182 409.4L1176 408L1169.8 404L1163.3 394L1154 383.8L1146 377.6L1142 376.3L1130 376.5L1116 380.2L1082 385.8L1060 390.7L1060 189.8L1312.2 190L1312 372.7L1296 378.6L1262 393.9L1258 394.3L1244 390.2L1238 390.1L1232 391.5L1228.1 394L1226.8 396L1226.5 398L1227.7 402L1226.9 404L1214 408.1Z" fill="#33ffcc" fill-rule="evenodd"/><path d="M1214 406.1L1200 408L1182 407.4L1176 406L1170 401.8L1160.4 390L1152 381.7L1146 377.2L1140 375.3L1130 375.4L1118 377.9L1086 382.1L1060 387.6L1060 189.8L1312.2 190L1312 370.7L1294 377.5L1262 392L1256 392.4L1242 389.6L1232 391L1227.1 394L1225.8 396L1224 402.6L1214 406.1Z" fill="#44ffbb" fill-rule="evenodd"/><path d="M1214 404L1200 406L1182 405.4L1176 404.1L1170 400.2L1158.9 388L1150 379.7L1144 375.7L1140 374.6L1130 374.3L1098 377.4L1080 380L1060 384.5L1060 189.8L1312.2 190L1312 368.7L1294 375.5L1262 390.2L1256 391L1240 389.1L1232 390.5L1226 394L1222 400.9L1214 404Z" fill="#55ffaa" fill-rule="evenodd"/><path d="M1214 402L1200 404L1182 403.4L1176 402.1L1170 398.8L1148 377.8L1144 375.1L1138 373.5L1110 373.3L1102 374L1082 376.6L1060 381.4L1060 189.8L1312.2 190L1312 366.7L1296 372.6L1268 385.8L1260 388.8L1254 389.6L1240 388.6L1230 390.7L1224.7 394L1220 399.7L1214 402Z" fill="#66ff99" fill-rule="evenodd"/><path d="M1212 400.5L1206 401.6L1198 402L1182 401.4L1176 400.1L1168 395.8L1148 377.3L1142 373.6L1138 372.5L1106 370.7L1082 373.6L1060 378.3L1060 189.8L1312.2 190L1312 364.7L1294 371.5L1260 387L1254 388.2L1238 388.3L1230 390.1L1226 392L1218 398.4L1212 400.5Z" fill="#77ff88" fill-rule="evenodd"/><path d="M1212 398.5L1206 399.6L1198 400L1182 399.4L1176 398.1L1166 392.8L1146 375.4L1140 372.1L1134 370.7L1112 367.7L1106 367.7L1082 370.5L1060 375.1L1060 189.8L1312.2 190L1312 362.7L1294 369.5L1260 385L1252 387L1240 387.5L1232 388.8L1226 391.1L1218 396.3L1212 398.5Z" fill="#88ff77" fill-rule="evenodd"/><path d="M1212 396.5L1206 397.6L1198 398L1182 397.4L1176 396.1L1164 389.9L1146 374.8L1140 371.1L1132 368.7L1114 365.1L1106 364.8L1088 366.6L1060 372L1060 189.8L1312.2 190L1312 360.7L1294 367.5L1260 383L1250 385.8L1238 386.9L1230 388.6L1212 396.5Z" fill="#99ff66" fill-rule="evenodd"/><path d="M1212 394.5L1206 395.6L1198 396L1182 395.4L1176 394.1L1160 385.4L1144 372.6L1138 369.1L1114 362.1L1106 361.8L1088 363.5L1060 368.9L1060 189.8L1312.2 190L1312 358.7L1294 365.5L1260 381L1250 384.2L1232 387.2L1212 394.5Z" fill="#aaff55" fill-rule="evenodd"/><path d="M1212 392.5L1206 393.6L1198 394L1182 393.4L1176 392.1L1160 383.5L1136 366.5L1128 363.2L1114 359.2L1106 358.8L1088 360.5L1060 365.8L1060 189.8L1312.2 190L1312 356.7L1294 363.5L1260 379L1246 383.4L1230 386.7L1212 392.5Z" fill="#bbff44" fill-rule="evenodd"/><path d="M1212 390.5L1198 392L1182 391.4L1176 390.1L1160 381.3L1134 363.4L1126 359.9L1114 356.2L1106 355.8L1088 357.5L1060 362.6L1060 189.8L1312.2 190L1312 354.7L1294 361.5L1260 377L1244.3 382L1212 390.5Z" fill="#ccff33" fill-rule="evenodd"/><path d="M1214 388L1200 390L1182 389.3L1176 388.1L1160 379.1L1132 359.8L1114 353.3L1106 352.8L1088 354.4L1060 359.5L1060 189.9L1312.2 190L1312 352.7L1294 359.4L1260 375L1242 380.7L1214 388Z" fill="#ddff22" fill-rule="evenodd"/><path d="M1212 386.5L1198 387.9L1182 387.3L1176 386L1160 376.9L1132 357.1L1122 352.8L1114 350.3L1106 349.9L1088 351.4L1060 356.4L1060 189.9L1312.2 190L1312 350.6L1294 357.4L1260 373L1237.4 380L1212 386.5Z" fill="#eeff11" fill-rule="evenodd"/><path d="M1212 384.2L1198 385.6L1182 384.9L1176 383.7L1160 374.4L1132 354.3L1122 349.8L1114 347.3L1106 346.8L1088 348.3L1060 353.1L1060 189.9L1312.1 190L1312 348.3L1294 355.1L1262 370L1236.5 378L1212 384.2Z" fill="#ffff00" fill-rule="evenodd"/><path d="M1208 382.1L1200 382.6L1184 382.1L1174.4 380L1160 371.3L1132 351.2L1122 346.7L1114 344.2L1106 343.6L1088 344.9L1060 349.3L1060 189.9L1312.1 190L1312 345.5L1296 351.5L1260 368.1L1233.8 376L1208 382.1Z" fill="#ffee00" fill-rule="evenodd"/><path d="M1210 378L1202 378.8L1192 378.6L1182 377.9L1176 376.6L1160 367.4L1132 347.8L1122 343.3L1114 340.9L1106 340.3L1088 341.1L1060 344.9L1060 189.9L1312.1 190L1312 342L1298 347.2L1268 361.6L1258 365.5L1236 372L1210 378Z" fill="#ffdd00" fill-rule="evenodd"/><path d="M1210 374.1L1202 374.7L1192 374.4L1182 373.7L1176 372.3L1160 363.2L1132 344.3L1122 339.9L1114 337.5L1106 336.9L1086 337.4L1060 340.3L1060 189.9L1312.1 190L1312 338.2L1298 343.5L1268 358.1L1258 362.1L1234 368.9L1210 374.1Z" fill="#ffcc00" fill-rule="evenodd"/><path d="M1210 370.1L1202 370.7L1190 370.1L1182 369.4L1176 367.9L1160 359L1134 341.8L1126 338.1L1116 334.7L1108 333.5L1088 333.6L1060 335.7L1060 189.9L1312.1 190L1312 334.4L1300 339L1268 354.6L1258 358.6L1234 365.3L1210 370.1Z" fill="#ffbb00" fill-rule="evenodd"/><path d="M1210 366.1L1202 366.6L1190 366L1182 365.1L1176 363.6L1160 354.9L1134 338.3L1126 334.6L1116 331.3L1108 330.2L1086 329.8L1060 331.2L1060 189.9L1312.1 190L1312 330.6L1300 335.2L1270 350.2L1258 355.1L1234 361.7L1210 366.1Z" fill="#ffaa00" fill-rule="evenodd"/><path d="M1210 362.1L1202 362.5L1190 361.8L1182 360.9L1176 359.3L1160 350.7L1134 334.7L1126 331.2L1116 328L1108 326.8L1086 325.9L1060 326.6L1060 189.9L1312.1 190L1312 326.7L1300 331.5L1270 346.8L1258 351.7L1234 358L1210 362.1Z" fill="#ff9900" fill-rule="evenodd"/><path d="M1210 358.2L1190 357.6L1182 356.6L1176 354.9L1160 346.5L1134 331.1L1116 324.6L1108 323.4L1084 322L1060 322.1L1060 189.9L1312.1 190L1312 322.9L1302 326.9L1270 343.3L1258 348.2L1234 354.4L1210 358.2Z" fill="#ff8800" fill-rule="evenodd"/><path d="M1212 354L1196 354L1178 351.3L1170 347.8L1134 327.5L1116 321.3L1084 318.1L1060 317.5L1060 189.9L1312.1 190L1312 319.1L1298 325.1L1270 339.8L1258 344.7L1236 350.4L1212 354Z" fill="#ff7700" fill-rule="evenodd"/><path d="M1212 350.1L1194 349.6L1178 347L1170 343.4L1134 323.9L1118 318.4L1110 316.9L1084 314.2L1060 312.9L1060 189.9L1312.1 190L1312 315.3L1298 321.4L1272 335.4L1258 341.3L1236 346.7L1212 350.1Z" fill="#ff6600" fill-rule="evenodd"/><path d="M1214 346.1L1196 345.7L1186 344.5L1178 342.7L1134 320.4L1118 315.1L1082 310L1060 308.4L1060 189.9L1312.1 190L1312 311.5L1298 317.7L1274 331L1258 337.8L1236 343.1L1214 346.1Z" fill="#ff5500" fill-rule="evenodd"/><path d="M1216 342L1200 341.9L1180 339L1172 335.8L1136 317.6L1118 311.7L1080 305.8L1060 303.8L1059.9 190L1312 189.9L1312 307.7L1298 314L1276 326.5L1260 333.6L1242 338.4L1216 342Z" fill="#ff4400" fill-rule="evenodd"/><path d="M1218 338.1L1202 338L1182 335.2L1174 332.4L1138 314.9L1126 310.4L1112 307.1L1060 299.2L1059.9 190L1312 189.9L1312 303.9L1298 310.3L1276 323.1L1260 330.1L1244 334.5L1218 338.1Z" fill="#ff3300" fill-rule="evenodd"/><path d="M1220 334.1L1204 334.1L1184 331.5L1176 328.9L1142 313L1128 307.6L1114 304.2L1060 294.7L1059.9 190L1312 189.9L1312 300.1L1298 306.6L1278 318.6L1260 326.7L1246 330.6L1220 334.1Z" fill="#ff2200" fill-rule="evenodd"/><path d="M1224 330.1L1206 330.2L1184 327.2L1176 324.6L1143.8 310L1130 304.7L1118 301.6L1060 290.1L1059.9 190L1312 189.9L1312 296.3L1298 302.9L1278 315.2L1262 322.4L1248 326.7L1224 330.1Z" fill="#ff1100" fill-rule="evenodd"/><path d="M1226 326L1206 326.1L1184 322.8L1176 320.1L1142 305.3L1130 301L1060 285.5L1059.9 190L1312 189.9L1312 292.5L1298 299.2L1278 311.6L1264 318L1250 322.6L1226 326Z" fill="#ff0000" fill-rule="evenodd"/><path d="M1234 320.2L1212 321L1186 317.7L1178 315.3L1158 306.7L1130 296.2L1060 280.7L1059.9 190L1312 189.9L1312 288.6L1302 293.1L1280 306.5L1268 312.1L1252 317.5L1234 320.2Z" fill="#ee0000" fill-rule="evenodd"/><path d="M1232 314L1212 314.2L1186 310.7L1178 308.4L1144 295.1L1126 289L1110 285.2L1060 275.8L1059.9 190L1312 189.9L1312 284.8L1298 291.3L1278 303L1268 307.2L1252 311.7L1232 314Z" fill="#dd0000" fill-rule="evenodd"/><path d="M1250 306.1L1232 307.6L1218 307.7L1204 306.5L1188 304L1178 301.4L1136 286.1L1118 280.6L1106 277.9L1060 270.8L1059.9 190L1312 189.9L1312 280.9L1300 286.2L1274 300L1262 303.8L1250 306.1Z" fill="#cc0000" fill-rule="evenodd"/><path d="M1250 300.2L1218 300.9L1188 296.9L1176 293.9L1114 273.1L1104 271.1L1060 265.9L1059.9 190L1312 189.9L1312 277.1L1300.4 282L1274 295.3L1262 298.4L1250 300.2Z" fill="#bb0000" fill-rule="evenodd"/><path d="M1252 294.1L1220 294.2L1192 290.6L1176 286.9L1110 265.6L1060 260.9L1060 190L1312 189.9L1312 273.2L1298 279.1L1276 289.8L1266 292.4L1252 294.1Z" fill="#aa0000" fill-rule="evenodd"/><path d="M1256 288.1L1224 287.8L1200 284.9L1184 282L1172 278.9L1110 259.1L1102 258L1060 255.9L1060 190L1312 190L1312 269.3L1276 285.1L1268 287L1256 288.1Z" fill="#990000" fill-rule="evenodd"/><path d="M1266 282.1L1248 282.3L1224 281.1L1188 275.7L1148 265.4L1136 261.8L1116 254.2L1106 251.8L1060 251L1060 190L1312 190L1312 265.4L1278 279.6L1266 282.1Z" fill="#880000" fill-rule="evenodd"/><path d="M1272 276L1256 276.3L1230 274.7L1196 270L1174 265.6L1144.7 258L1134 254.6L1116 247.5L1106 245L1060 245.5L1060 190L1312 190L1312 260.8L1279.1 274L1272 276Z" fill="#800000" fill-rule="evenodd"/></g></g><line x1="1148.8" y1="378" x2="1045" y2="412.4" stroke="#ff0000" stroke-width="2.6"/><line x1="1241.7" y1="385.4" x2="1324.7" y2="412.6" stroke="#00ff00" stroke-width="2.6"/><line x1="1185" y1="179.8" x2="1185" y2="212" stroke="#0000ff" stroke-width="3"/><polygon points="1314,409.1 1313.9,403.1 1313.7,397.1 1313.3,391 1312.7,384.9 1312,378.7 1311.2,372.6 1310.2,366.4 1309,360.2 1307.7,354.1 1306.2,347.9 1304.6,341.8 1302.9,335.7 1301,329.7 1298.9,323.6 1296.7,317.7 1294.4,311.8 1292,305.9 1289.4,300.1 1286.7,294.4 1283.9,288.8 1280.9,283.3 1277.9,277.9 1274.7,272.6 1271.4,267.4 1268,262.3 1264.5,257.3 1260.9,252.5 1257.2,247.8 1253.5,243.3 1249.6,238.9 1245.7,234.6 1241.7,230.5 1237.6,226.6 1233.4,222.8 1229.3,219.3 1225,215.9 1220.7,212.6 1216.4,209.6 1212,206.7 1207.6,204.1 1203.1,201.6 1198.7,199.4 1194.2,197.3 1189.7,195.5 1185.2,193.8 1180.7,192.4 1176.2,191.1 1171.7,190.1 1167.3,189.3 1162.8,188.7 1158.4,188.3 1154,188.2 1149.7,188.2 1145.4,188.5 1141.1,189 1137,189.7 1132.8,190.6 1128.7,191.7 1124.7,193 1120.8,194.6 1116.9,196.3 1113.2,198.3 1109.5,200.4 1105.9,202.8 1102.4,205.3 1099,208.1 1095.7,211 1092.5,214.1 1089.5,217.5 1086.5,220.9 1083.7,224.6 1081,228.4 1078.4,232.5 1076,236.6 1073.7,240.9 1071.5,245.4 1069.4,250 1067.5,254.8 1065.8,259.7 1064.2,264.7 1062.7,269.8 1061.4,275.1 1060.2,280.4 1059.2,285.9 1058.4,291.5 1057.7,297.1 1057.1,302.9 1056.7,308.7 1056.5,314.6 1056.4,320.5 1056.5,326.5 1056.7,332.5 1057.1,338.6 1057.7,344.7 1058.4,350.9 1059.2,357 1060.2,363.2 1061.4,369.4 1062.7,375.5 1064.2,381.7 1065.8,387.8 1067.5,393.9 1069.4,399.9 1071.5,406 1073.7,411.9 1076,417.8 1078.4,423.7 1081,429.5 1083.7,435.2 1086.5,440.8 1089.5,446.3 1092.5,451.7 1095.7,457 1099,462.2 1102.4,467.3 1105.9,472.3 1109.5,477.1 1113.2,481.8 1116.9,486.3 1120.8,490.7 1124.7,495 1128.7,499.1 1132.8,503 1137,506.8 1141.1,510.3 1145.4,513.7 1149.7,517 1154,520 1158.4,522.9 1162.8,525.5 1167.3,528 1171.7,530.2 1176.2,532.3 1180.7,534.1 1185.2,535.8 1189.7,537.2 1194.2,538.5 1198.7,539.5 1203.1,540.3 1207.6,540.9 1212,541.3 1216.4,541.4 1220.7,541.4 1225,541.1 1229.3,540.6 1233.4,539.9 1237.6,539 1241.7,537.9 1245.7,536.6 1249.6,535 1253.5,533.3 1257.2,531.3 1260.9,529.2 1264.5,526.8 1268,524.3 1271.4,521.5 1274.7,518.6 1277.9,515.5 1280.9,512.1 1283.9,508.7 1286.7,505 1289.4,501.2 1292,497.1 1294.4,493 1296.7,488.7 1298.9,484.2 1301,479.6 1302.9,474.8 1304.6,469.9 1306.2,464.9 1307.7,459.8 1309,454.5 1310.2,449.2 1311.2,443.7 1312,438.1 1312.7,432.5 1313.3,426.7 1313.7,420.9 1313.9,415 1314,409.1" fill="none" stroke="#ff0000" stroke-width="3.5"/><polygon points="1056.4,409.1 1056.5,403.1 1056.7,397.1 1057.1,391 1057.7,384.9 1058.4,378.7 1059.2,372.6 1060.2,366.4 1061.4,360.2 1062.7,354.1 1064.2,347.9 1065.8,341.8 1067.5,335.7 1069.4,329.7 1071.5,323.6 1073.7,317.7 1076,311.8 1078.4,305.9 1081,300.1 1083.7,294.4 1086.5,288.8 1089.5,283.3 1092.5,277.9 1095.7,272.6 1099,267.4 1102.4,262.3 1105.9,257.3 1109.5,252.5 1113.2,247.8 1116.9,243.3 1120.8,238.9 1124.7,234.6 1128.7,230.5 1132.8,226.6 1137,222.8 1141.1,219.3 1145.4,215.9 1149.7,212.6 1154,209.6 1158.4,206.7 1162.8,204.1 1167.3,201.6 1171.7,199.4 1176.2,197.3 1180.7,195.5 1185.2,193.8 1189.7,192.4 1194.2,191.1 1198.7,190.1 1203.1,189.3 1207.6,188.7 1212,188.3 1216.4,188.2 1220.7,188.2 1225,188.5 1229.3,189 1233.4,189.7 1237.6,190.6 1241.7,191.7 1245.7,193 1249.6,194.6 1253.5,196.3 1257.2,198.3 1260.9,200.4 1264.5,202.8 1268,205.3 1271.4,208.1 1274.7,211 1277.9,214.1 1280.9,217.5 1283.9,220.9 1286.7,224.6 1289.4,228.4 1292,232.5 1294.4,236.6 1296.7,240.9 1298.9,245.4 1301,250 1302.9,254.8 1304.6,259.7 1306.2,264.7 1307.7,269.8 1309,275.1 1310.2,280.4 1311.2,285.9 1312,291.5 1312.7,297.1 1313.3,302.9 1313.7,308.7 1313.9,314.6 1314,320.5 1313.9,326.5 1313.7,332.5 1313.3,338.6 1312.7,344.7 1312,350.9 1311.2,357 1310.2,363.2 1309,369.4 1307.7,375.5 1306.2,381.7 1304.6,387.8 1302.9,393.9 1301,399.9 1298.9,406 1296.7,411.9 1294.4,417.8 1292,423.7 1289.4,429.5 1286.7,435.2 1283.9,440.8 1280.9,446.3 1277.9,451.7 1274.7,457 1271.4,462.2 1268,467.3 1264.5,472.3 1260.9,477.1 1257.2,481.8 1253.5,486.3 1249.6,490.7 1245.7,495 1241.7,499.1 1237.6,503 1233.4,506.8 1229.3,510.3 1225,513.7 1220.7,517 1216.4,520 1212,522.9 1207.6,525.5 1203.1,528 1198.7,530.2 1194.2,532.3 1189.7,534.1 1185.2,535.8 1180.7,537.2 1176.2,538.5 1171.7,539.5 1167.3,540.3 1162.8,540.9 1158.4,541.3 1154,541.4 1149.7,541.4 1145.4,541.1 1141.1,540.6 1137,539.9 1132.8,539 1128.7,537.9 1124.7,536.6 1120.8,535 1116.9,533.3 1113.2,531.3 1109.5,529.2 1105.9,526.8 1102.4,524.3 1099,521.5 1095.7,518.6 1092.5,515.5 1089.5,512.1 1086.5,508.7 1083.7,505 1081,501.2 1078.4,497.1 1076,493 1073.7,488.7 1071.5,484.2 1069.4,479.6 1067.5,474.8 1065.8,469.9 1064.2,464.9 1062.7,459.8 1061.4,454.5 1060.2,449.2 1059.2,443.7 1058.4,438.1 1057.7,432.5 1057.1,426.7 1056.7,420.9 1056.5,415 1056.4,409.1" fill="none" stroke="#00ff00" stroke-width="3.5"/><text x="1190" y="178" font-size="15" text-anchor="middle" fill="#262626" stroke="#262626" stroke-width="0.25">z</text><text x="1036" y="427" font-size="15" text-anchor="middle" fill="#262626" stroke="#262626" stroke-width="0.25">x</text><text x="1335.8" y="422.6" font-size="15" text-anchor="middle" fill="#262626" stroke="#262626" stroke-width="0.25">y</text><text x="1048.8" y="398" font-size="15" text-anchor="middle" fill="#000" stroke="#000" stroke-width="0.25">el</text><text x="1069" y="427" font-size="15" text-anchor="middle" fill="#000" stroke="#000" stroke-width="0.25">az</text><path d="M1050.6 394L1052.2 411.6L1062.6 414.8" fill="none" stroke="#000" stroke-width="3"/><rect x="1450.4" y="157.4" width="28.4" height="408.2" fill="url(#jet)" stroke="#262626" stroke-width="1.4"/><text x="1487" y="165.7" font-size="18.2" fill="#262626" stroke="#262626" stroke-width="0.25">5</text><line x1="1474.3" y1="294.3" x2="1478.8" y2="294.3" stroke="#262626" stroke-width="1.4"/><text x="1487" y="301.7" font-size="18.2" fill="#262626" stroke="#262626" stroke-width="0.25">0</text><line x1="1474.3" y1="430.4" x2="1478.8" y2="430.4" stroke="#262626" stroke-width="1.4"/><text x="1487" y="437.8" font-size="18.2" fill="#262626" stroke="#262626" stroke-width="0.25">-5</text><text x="1487" y="573.8" font-size="18.2" fill="#262626" stroke="#262626" stroke-width="0.25">-10</text><text x="1538" y="355.6" font-size="20" class="b" fill="#262626">dBi</text><rect x="958.4" y="626.2" width="612" height="116.2" rx="9" ry="9" fill="#fff" stroke="#b0b0b0" stroke-width="1.3"/><text x="1081.6" y="661.4" font-size="14" text-anchor="end" fill="#333333" stroke="#333333" stroke-width="0.25">OUTPUT</text><text x="1099.4" y="661.4" font-size="20" text-anchor="middle" fill="#333333" stroke="#333333" stroke-width="0.25">:</text><text x="1121.6" y="661.4" font-size="20" fill="#333333" stroke="#333333" stroke-width="0.25">Directivity</text><text x="1081.6" y="691.3" font-size="14" text-anchor="end" fill="#333333" stroke="#333333" stroke-width="0.25">MIN VALUE</text><text x="1099.4" y="691.3" font-size="20" text-anchor="middle" fill="#333333" stroke="#333333" stroke-width="0.25">:</text><text x="1121.6" y="691.3" font-size="20" fill="#333333" stroke="#333333" stroke-width="0.25">-28.7 dBi</text><text x="1081.6" y="721.2" font-size="14" text-anchor="end" fill="#333333" stroke="#333333" stroke-width="0.25">AZIMUTH</text><text x="1099.4" y="721.2" font-size="20" text-anchor="middle" fill="#333333" stroke="#333333" stroke-width="0.25">:</text><text x="1121.6" y="721.2" font-size="20" fill="#333333" stroke="#333333" stroke-width="0.25">[-180º , 180º]</text><text x="1386.6" y="661.4" font-size="14" text-anchor="end" fill="#333333" stroke="#333333" stroke-width="0.25">FREQUENCY</text><text x="1404.2" y="661.4" font-size="20" text-anchor="middle" fill="#333333" stroke="#333333" stroke-width="0.25">:</text><text x="1426.8" y="661.4" font-size="20" fill="#333333" stroke="#333333" stroke-width="0.25">1 GHz</text><text x="1386.6" y="691.3" font-size="14" text-anchor="end" fill="#333333" stroke="#333333" stroke-width="0.25">MAX VALUE</text><text x="1404.2" y="691.3" font-size="20" text-anchor="middle" fill="#333333" stroke="#333333" stroke-width="0.25">:</text><text x="1426.8" y="691.3" font-size="20" fill="#333333" stroke="#333333" stroke-width="0.25">6.24 dBi</text><text x="1386.6" y="721.2" font-size="14" text-anchor="end" fill="#333333" stroke="#333333" stroke-width="0.25">ELEVATION</text><text x="1404.2" y="721.2" font-size="20" text-anchor="middle" fill="#333333" stroke="#333333" stroke-width="0.25">:</text><text x="1426.8" y="721.2" font-size="20" fill="#333333" stroke="#333333" stroke-width="0.25">[-90º , 90º]</text><text x="1718.6" y="105.7" font-size="22" class="b" fill="#000">Impedance</text><rect x="2134" y="94" width="11.4" height="11.2" fill="#0000ff"/><text x="2150.4" y="104.9" font-size="16" fill="#000" stroke="#000" stroke-width="0.25">Resistance</text><rect x="2277.8" y="94" width="11.4" height="11.2" fill="#ff0000"/><text x="2293.9" y="104.9" font-size="16" fill="#000" stroke="#000" stroke-width="0.25">Reactance</text><rect x="1722.0" y="128.9" width="651.6" height="520.9" fill="#fff"/><path d="M1852.3 128.9V649.8M1982.6 128.9V649.8M2113 128.9V649.8M2243.3 128.9V649.8M1722.0 597.7H2373.6M1722.0 545.6H2373.6M1722.0 493.5H2373.6M1722.0 441.4H2373.6M1722.0 389.3H2373.6M1722.0 337.2H2373.6M1722.0 285.1H2373.6M1722.0 233H2373.6M1722.0 180.9H2373.6" stroke="#c3c3c3" stroke-width="1.5" fill="none"/><clipPath id="plotclip"><rect x="1722.0" y="128.9" width="651.6" height="520.9"/></clipPath><g clip-path="url(#plotclip)"><polyline points="1722,599.4 1725.3,593.4 1729.8,585.2 1735.1,575.5 1741,565 1746.8,554.5 1752.4,544.9 1757.8,535.9 1763.2,527 1768.8,518 1774.4,509.2 1779.9,500.5 1785.5,492 1791,483.7 1796.5,475.6 1801.9,467.6 1807.4,459.7 1812.9,451.9 1818.4,444.1 1824.2,435.9 1830.2,427.4 1836.3,419 1842,411 1847.2,403.8 1851.5,397.7 1855,393 1857.7,389.1 1859.9,386.1 1861.6,383.7 1863,381.8 1864.1,380.2 1880.6,366.3 1893.8,365 1910,382.2 1911.9,386.9 1914.5,393.4 1917.5,401.2 1920.9,409.5 1924.3,417.9 1927.5,425.9 1930.8,433.6 1934.1,441.6 1937.5,449.7 1940.9,457.6 1944.2,465.2 1947.4,472.1 1950.3,478.5 1953,484.4 1955.7,489.9 1958.3,495.2 1961,500.2 1963.9,505.2 1966.7,510 1969.6,514.5 1972.4,518.9 1975.4,523.1 1978.7,527.3 1982.4,531.7 1986.5,536.1 1990.9,540.4 1995.6,544.8 2000.4,549.2 2005.3,553.6 2010.2,558.1 2015.2,562.7 2020.4,567.5 2025.7,572.3 2030.9,577 2035.7,581.4 2039.9,585.4 2043.4,589 2046.5,592.2 2049.2,595.1 2051.6,597.8 2054,600.4 2056.4,603 2058.8,605.5 2061,608 2063.1,610.4 2065.2,612.6 2067.3,614.5 2069.6,616.2 2072.1,617.6 2074.6,618.9 2077.3,619.8 2079.9,620.6 2082.5,621.1 2085.1,621.5 2087.5,621.5 2089.8,621.3 2092.1,620.8 2094.5,620.2 2096.8,619.5 2099.3,618.8 2101.9,618.1 2104.5,617.2 2107.2,616.3 2110,615.3 2112.9,614.1 2115.8,612.9 2119,611.4 2122.4,609.8 2125.9,608.1 2129.4,606.3 2132.7,604.6 2135.6,603 2138.2,601.6 2140.4,600.3 2142.5,599.1 2144.5,597.8 2146.6,596.5 2148.9,595 2151.3,593.5 2153.6,592.1 2155.9,590.6 2158.5,588.8 2161.6,586.8 2165.3,584.2 2169.8,581.1 2174.7,577.6 2180.1,573.7 2185.9,569.5 2192.1,565.2 2198.4,560.7 2205.3,555.9 2212.7,550.8 2220.4,545.4 2228.2,540.1 2235.8,534.9 2243,530 2249.8,525.5 2256.4,521.1 2262.8,516.9 2269,512.9 2275.1,509 2281.1,505.2 2286.9,501.6 2292.5,498 2297.9,494.7 2303.3,491.4 2308.7,488.3 2314.2,485.4 2319.8,482.5 2325.5,479.8 2331.1,477.3 2336.7,474.9 2342.2,472.6 2347.3,470.5 2352.4,468.6 2357.5,466.7 2362.5,465.1 2367,463.6 2370.8,462.4 2373.6,461.5" fill="none" stroke="#ff0000" stroke-width="4" stroke-linejoin="round"/><polyline points="1722,436.5 1725.3,435.7 1729.8,434.6 1735.1,433.4 1741,432 1746.8,430.6 1752.4,429.2 1757.9,427.7 1763.7,426.2 1769.6,424.6 1775.3,423 1780.7,421.4 1785.5,419.9 1789.5,418.5 1793,417.1 1796.2,415.8 1799.2,414.4 1802.1,412.8 1805.3,411 1808.6,408.9 1811.9,406.7 1815.2,404.3 1818.5,401.8 1821.8,399 1825.1,396.1 1828.5,392.9 1831.8,389.5 1835.2,386 1838.6,382.3 1841.8,378.5 1844.9,374.6 1848,370.6 1850.9,366.4 1853.8,362.2 1856.6,357.9 1859.1,353.8 1861.4,349.9 1863.4,346.6 1865,343.8 1866.4,341.2 1867.8,338.3 1869.4,334.7 1871.3,330 1873.7,323.9 1876.4,316.8 1879.2,309.1 1882.2,300.9 1885.1,292.7 1887.9,284.9 1890.7,277.1 1893.5,269.2 1896.3,261.3 1899.1,253.5 1901.8,245.9 1904.4,238.8 1907.1,231.9 1909.7,225.1 1912.2,218.6 1914.7,212.5 1917.1,207 1919.3,202.3 1921.4,198.4 1923.3,195.3 1925.1,192.8 1926.9,190.8 1928.6,188.9 1930.5,187.2 1932.5,185.6 1934.4,184.3 1936.4,183.3 1938.4,182.5 1940.4,181.9 1942.4,181.5 1944.4,181.3 1946.3,181.5 1948.3,181.8 1950.2,182.3 1952.1,182.9 1954,183.6 1955.6,184.2 1957.1,184.8 1958.5,185.6 1960,186.5 1961.7,187.6 1963.9,189 1966.4,190.7 1969.2,192.8 1972.2,195 1975.4,197.4 1978.8,199.8 1982.4,202.3 1986.1,204.9 1990.2,207.7 1994.3,210.5 1998.6,213.4 2002.8,216.2 2006.9,218.8 2010.9,221.2 2015,223.5 2019,225.8 2022.9,228 2026.6,230 2030,232 2032.9,233.7 2035.4,235.1 2037.7,236.3 2040,237.7 2042.3,239.5 2044.9,241.9 2047.7,244.9 2050.6,248.4 2053.6,252.2 2056.6,256.3 2059.8,260.6 2062.9,265 2066.2,269.8 2069.6,275 2073.1,280.4 2076.5,285.8 2079.8,290.9 2082.7,295.5 2085.3,299.6 2087.5,303.2 2089.6,306.5 2091.6,309.8 2093.7,313 2096,316.4 2098.6,320 2101.3,323.7 2104.1,327.4 2106.9,331 2109.8,334.5 2112.6,337.7 2115.2,340.6 2117.7,343.2 2120.2,345.5 2122.9,347.9 2125.8,350.4 2129.1,353.2 2132.9,356.3 2137.2,359.6 2141.7,363.1 2146.3,366.6 2150.9,369.9 2155.4,373 2159.8,375.8 2164.1,378.4 2168.3,380.9 2172.7,383.3 2177.2,385.6 2182,387.9 2187.2,390.1 2192.7,392.4 2198.4,394.6 2204,396.7 2209.6,398.5 2214.9,400.1 2220,401.4 2225.1,402.4 2230.1,403.3 2234.8,404 2239.2,404.5 2243,405 2246.2,405.4 2248.6,405.7 2250.8,405.8 2252.8,405.9 2255.1,405.8 2257.9,405.7 2261.1,405.6 2264.6,405.4 2268.3,405.1 2272.3,404.8 2276.5,404.2 2281.1,403.4 2286,402.3 2291.4,401 2297,399.5 2302.8,397.9 2308.5,396.2 2314.2,394.5 2319.8,392.6 2325.5,390.6 2331.1,388.4 2336.7,386.3 2342.2,384.2 2347.3,382.2 2352.4,380.3 2357.5,378.2 2362.5,376.3 2367,374.5 2370.8,373 2373.6,371.9" fill="none" stroke="#0000ff" stroke-width="4" stroke-linejoin="round"/></g><path d="M1852.3 649.8v-6.5M1982.6 649.8v-6.5M2113 649.8v-6.5M2243.3 649.8v-6.5M1722.0 597.7h6.5M1722.0 545.6h6.5M1722.0 493.5h6.5M1722.0 441.4h6.5M1722.0 389.3h6.5M1722.0 337.2h6.5M1722.0 285.1h6.5M1722.0 233h6.5M1722.0 180.9h6.5" stroke="#262626" stroke-width="1.5" fill="none"/><rect x="1722.0" y="128.9" width="651.6" height="520.9" fill="none" stroke="#262626" stroke-width="1.6"/><text x="1712" y="656" font-size="18.2" text-anchor="end" fill="#262626" stroke="#262626" stroke-width="0.25">-400</text><text x="1712" y="603.9" font-size="18.2" text-anchor="end" fill="#262626" stroke="#262626" stroke-width="0.25">-300</text><text x="1712" y="551.8" font-size="18.2" text-anchor="end" fill="#262626" stroke="#262626" stroke-width="0.25">-200</text><text x="1712" y="499.7" font-size="18.2" text-anchor="end" fill="#262626" stroke="#262626" stroke-width="0.25">-100</text><text x="1712" y="447.6" font-size="18.2" text-anchor="end" fill="#262626" stroke="#262626" stroke-width="0.25">0</text><text x="1712" y="395.5" font-size="18.2" text-anchor="end" fill="#262626" stroke="#262626" stroke-width="0.25">100</text><text x="1712" y="343.4" font-size="18.2" text-anchor="end" fill="#262626" stroke="#262626" stroke-width="0.25">200</text><text x="1712" y="291.3" font-size="18.2" text-anchor="end" fill="#262626" stroke="#262626" stroke-width="0.25">300</text><text x="1712" y="239.2" font-size="18.2" text-anchor="end" fill="#262626" stroke="#262626" stroke-width="0.25">400</text><text x="1712" y="187.1" font-size="18.2" text-anchor="end" fill="#262626" stroke="#262626" stroke-width="0.25">500</text><text x="1712" y="135.1" font-size="18.2" text-anchor="end" fill="#262626" stroke="#262626" stroke-width="0.25">600</text><text x="1722" y="674.4" font-size="18.2" text-anchor="middle" fill="#262626" stroke="#262626" stroke-width="0.25">0.5</text><text x="1852.3" y="674.4" font-size="18.2" text-anchor="middle" fill="#262626" stroke="#262626" stroke-width="0.25">1</text><text x="1982.6" y="674.4" font-size="18.2" text-anchor="middle" fill="#262626" stroke="#262626" stroke-width="0.25">1.5</text><text x="2113" y="674.4" font-size="18.2" text-anchor="middle" fill="#262626" stroke="#262626" stroke-width="0.25">2</text><text x="2243.3" y="674.4" font-size="18.2" text-anchor="middle" fill="#262626" stroke="#262626" stroke-width="0.25">2.5</text><text x="2373.6" y="674.4" font-size="18.2" text-anchor="middle" fill="#262626" stroke="#262626" stroke-width="0.25">3</text><text x="2047.4" y="706.1" font-size="18" class="b" text-anchor="middle" fill="#262626">Frequency (GHz)</text><text transform="translate(1667 389.1) rotate(-90)" font-size="18" class="b" text-anchor="middle" fill="#262626">Impedance (ohms)</text>
</svg>
</body>
</html>
